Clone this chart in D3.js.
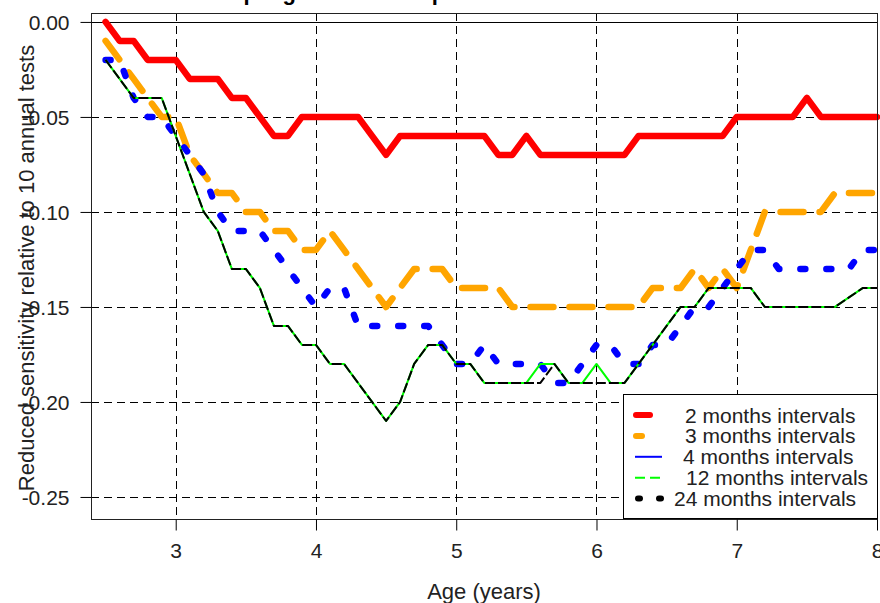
<!DOCTYPE html>
<html>
<head>
<meta charset="utf-8">
<script src="https://cdn.jsdelivr.net/npm/d3@7"></script>
<style>
  body { margin: 0; background: #fff; }
  svg { display: block; font-family: "Liberation Sans", Arial, sans-serif; }
</style>
</head>
<body>
<svg id="chart" width="880" height="603"></svg>
<script>
const ages = [2.5, 2.6, 2.7, 2.8, 2.9, 3.0, 3.1, 3.2, 3.3, 3.4,
              3.5, 3.6, 3.7, 3.8, 3.9, 4.0, 4.1, 4.2, 4.3, 4.4,
              4.5, 4.6, 4.7, 4.8, 4.9, 5.0, 5.1, 5.2, 5.3, 5.4,
              5.5, 5.6, 5.7, 5.8, 5.9, 6.0, 6.1, 6.2, 6.3, 6.4,
              6.5, 6.6, 6.7, 6.8, 6.9, 7.0, 7.1, 7.2, 7.3, 7.4,
              7.5, 7.6, 7.7, 7.8, 7.9, 8.0];

const months2 = [0, -0.01, -0.01, -0.02, -0.02, -0.02, -0.03, -0.03, -0.03, -0.04,
                 -0.04, -0.05, -0.06, -0.06, -0.05, -0.05, -0.05, -0.05, -0.05, -0.06,
                 -0.07, -0.06, -0.06, -0.06, -0.06, -0.06, -0.06, -0.06, -0.07, -0.07,
                 -0.06, -0.07, -0.07, -0.07, -0.07, -0.07, -0.07, -0.07, -0.06, -0.06,
                 -0.06, -0.06, -0.06, -0.06, -0.06, -0.05, -0.05, -0.05, -0.05, -0.05,
                 -0.04, -0.05, -0.05, -0.05, -0.05, -0.05];

const months3 = [-0.01, -0.02, -0.03, -0.04, -0.05, -0.05, -0.07, -0.08, -0.09, -0.09,
                 -0.10, -0.10, -0.11, -0.11, -0.12, -0.12, -0.11, -0.12, -0.13, -0.14,
                 -0.15, -0.14, -0.13, -0.13, -0.13, -0.14, -0.14, -0.14, -0.14, -0.15,
                 -0.15, -0.15, -0.15, -0.15, -0.15, -0.15, -0.15, -0.15, -0.15, -0.14,
                 -0.14, -0.14, -0.13, -0.14, -0.13, -0.14, -0.12, -0.10, -0.10, -0.10,
                 -0.10, -0.10, -0.09, -0.09, -0.09, -0.09];

const months4 = [-0.02, -0.02, -0.04, -0.05, -0.05, -0.06, -0.07, -0.08, -0.10, -0.11,
                 -0.11, -0.11, -0.12, -0.13, -0.14, -0.15, -0.14, -0.14, -0.16, -0.16,
                 -0.16, -0.16, -0.16, -0.16, -0.17, -0.18, -0.18, -0.17, -0.18, -0.18,
                 -0.18, -0.18, -0.19, -0.19, -0.18, -0.17, -0.17, -0.18, -0.18, -0.17,
                 -0.17, -0.16, -0.15, -0.15, -0.14, -0.13, -0.12, -0.12, -0.13, -0.13,
                 -0.13, -0.13, -0.13, -0.13, -0.12, -0.12];

const months12 = [-0.02, -0.03, -0.04, -0.04, -0.04, -0.06, -0.08, -0.10, -0.11, -0.13,
                  -0.13, -0.14, -0.16, -0.16, -0.17, -0.17, -0.18, -0.18, -0.19, -0.20,
                  -0.21, -0.20, -0.18, -0.17, -0.17, -0.18, -0.18, -0.19, -0.19, -0.19,
                  -0.19, -0.18, -0.18, -0.19, -0.19, -0.18, -0.19, -0.19, -0.18, -0.17,
                  -0.16, -0.15, -0.15, -0.14, -0.14, -0.14, -0.14, -0.15, -0.15, -0.15,
                  -0.15, -0.15, -0.15, -0.145, -0.14, -0.14];

const months24 = [-0.02, -0.03, -0.04, -0.04, -0.04, -0.06, -0.08, -0.10, -0.11, -0.13,
                  -0.13, -0.14, -0.16, -0.16, -0.17, -0.17, -0.18, -0.18, -0.19, -0.20,
                  -0.21, -0.20, -0.18, -0.17, -0.17, -0.18, -0.18, -0.19, -0.19, -0.19,
                  -0.19, -0.19, -0.18, -0.19, -0.19, -0.19, -0.19, -0.19, -0.18, -0.17,
                  -0.16, -0.15, -0.15, -0.14, -0.14, -0.14, -0.14, -0.15, -0.15, -0.15,
                  -0.15, -0.15, -0.15, -0.145, -0.14, -0.14];

const seriesNames = ["2 months intervals", "3 months intervals", "4 months intervals",
                     "12 months intervals", "24 months intervals"];
const xTicks = [3, 4, 5, 6, 7, 8];
const yTicks = [0, -0.05, -0.10, -0.15, -0.20, -0.25];

const series = [months2, months3, months4, months12, months24];

// how each series is drawn in the plot
const plotStyle = [
    {color: "#ff0000", width: 6.5, dash: null},
    {color: "#ffa500", width: 6.5, dash: "23,16"},
    {color: "#0000ff", width: 6.5, dash: "5,21"},
    {color: "#00ff00", width: 2, dash: null},
    {color: "#000000", width: 2, dash: "10,3"}
];

const svg = d3.select("#chart");

const x = d3.scaleLinear().domain([2.396, 8.0]).range([91, 877]);
const y = d3.scaleLinear().domain([-0.2616, 0.0047]).range([519, 13]);

// title (only its descenders fall inside the picture)
svg.append("text")
    .attr("x", 197)
    .attr("y", -0.5)
    .attr("font-size", "22px")
    .attr("font-weight", "bold")
    .attr("fill", "#000")
    .text("Sampling interval comparison");

// grid
const grid = svg.append("g").attr("stroke", "#000").attr("stroke-width", 1);
grid.selectAll("line.vgrid")
    .data(xTicks.filter(d => d < 8))
    .join("line")
    .attr("class", "vgrid")
    .attr("x1", d => Math.round(x(d)) + 0.5).attr("x2", d => Math.round(x(d)) + 0.5)
    .attr("y1", y.range()[1]).attr("y2", y.range()[0])
    .attr("stroke-dasharray", "8,5");
grid.selectAll("line.hgrid")
    .data(yTicks)
    .join("line")
    .attr("class", "hgrid")
    .attr("x1", x.range()[0]).attr("x2", x.range()[1])
    .attr("y1", d => Math.round(y(d)) + 0.5).attr("y2", d => Math.round(y(d)) + 0.5)
    .attr("stroke-dasharray", d => d === 0 ? null : "8,5");

// series lines
const line = d3.line()
    .x((d, i) => x(ages[i]))
    .y(d => y(d));

series.forEach((values, k) => {
    const s = plotStyle[k];
    svg.append("path")
        .datum(values)
        .attr("fill", "none")
        .attr("stroke", s.color)
        .attr("stroke-width", s.width)
        .attr("stroke-linejoin", "round")
        .attr("stroke-linecap", s.width > 3 ? "round" : "butt")
        .attr("stroke-dasharray", s.dash)
        .attr("d", line);
});

// frame
svg.append("rect")
    .attr("x", 91.5).attr("y", 13.5)
    .attr("width", 877 - 91).attr("height", 519 - 13)
    .attr("fill", "none")
    .attr("stroke", "#222")
    .attr("stroke-width", 1);

// axes
const yAxis = svg.append("g")
    .attr("transform", "translate(91.5,0)")
    .call(d3.axisLeft(y).tickValues(yTicks).tickSize(11).tickPadding(11)
        .tickFormat(d => d.toFixed(2)));
const xAxis = svg.append("g")
    .attr("transform", "translate(0,519.5)")
    .call(d3.axisBottom(x).tickValues(xTicks).tickSize(11).tickPadding(13)
        .tickFormat(d => String(d)));

[yAxis, xAxis].forEach(ax => {
    ax.select(".domain").remove();
    ax.selectAll("line").attr("stroke", "#000");
    ax.selectAll("text")
        .attr("font-size", "21px")
        .attr("fill", "#222")
        .attr("font-family", "\"Liberation Sans\", Arial, sans-serif");
});
yAxis.selectAll("text").attr("dy", "0.36em");

// axis labels
svg.append("text")
    .attr("x", 484)
    .attr("y", 599)
    .attr("text-anchor", "middle")
    .attr("font-size", "22px")
    .attr("fill", "#222")
    .text("Age (years)");

svg.append("text")
    .attr("transform", "translate(34,268) rotate(-90)")
    .attr("text-anchor", "middle")
    .attr("font-size", "22px")
    .attr("fill", "#222")
    .text("Reduced sensitivity relative to 10 annual tests");

// legend
const legendBox = {x: 623, y: 394, w: 877 - 623, h: 124};
const legendRowY = d => 415 + d * 20.9;
const legendTextX = [685, 685, 683, 686, 674];
const legendKey = [
    {color: "#ff0000", width: 6, cap: "round", dash: null, x1: 636, x2: 650},
    {color: "#ffa500", width: 6, cap: "round", dash: null, x1: 636, x2: 642},
    {color: "#0000ff", width: 2, cap: "butt", dash: null, x1: 635, x2: 662},
    {color: "#00ff00", width: 2, cap: "butt", dash: "10,5", x1: 635, x2: 662},
    {color: "#000000", width: 6, cap: "round", dash: "2,19", x1: 638, x2: 662}
];

const legend = svg.append("g");
legend.append("rect")
    .attr("x", legendBox.x + 0.5).attr("y", legendBox.y + 0.5)
    .attr("width", legendBox.w).attr("height", legendBox.h)
    .attr("fill", "#fff")
    .attr("stroke", "#000");

seriesNames.forEach((name, i) => {
    const k = legendKey[i];
    legend.append("line")
        .attr("x1", k.x1).attr("x2", k.x2)
        .attr("y1", legendRowY(i)).attr("y2", legendRowY(i))
        .attr("stroke", k.color)
        .attr("stroke-width", k.width)
        .attr("stroke-linecap", k.cap)
        .attr("stroke-dasharray", k.dash);
    legend.append("text")
        .attr("x", legendTextX[i])
        .attr("y", legendRowY(i) + 7.5)
        .attr("font-size", "21px")
        .attr("fill", "#222")
        .text(name);
});
</script>
</body>
</html>
